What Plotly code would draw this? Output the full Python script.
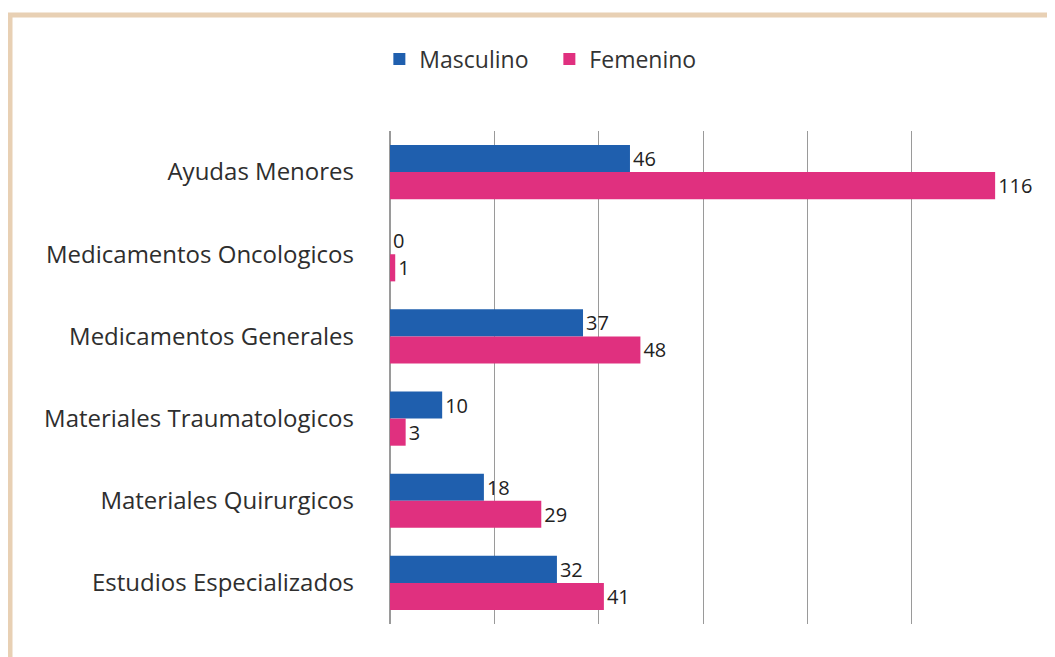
import plotly.graph_objects as go

categorias = ["Ayudas Menores", "Medicamentos Oncologicos", "Medicamentos Generales",
              "Materiales Traumatologicos", "Materiales Quirurgicos", "Estudios Especializados"]
masculino = [46, 0, 37, 10, 18, 32]
femenino = [116, 1, 48, 3, 29, 41]

azul = "#1f5fae"
rosa = "#e0307f"
font_fam = "'Open Sans', 'Noto Sans', sans-serif"

W, H = 1055, 657
L, R, T, B = 382, 47, 123, 41
pw, ph = W - L - R, H - T - B

fig = go.Figure()
fig.add_trace(go.Bar(y=categorias, x=masculino, orientation="h", name="Masculino",
                     marker=dict(color=azul, line=dict(width=0)),
                     text=masculino, textposition="outside", cliponaxis=False,
                     textfont=dict(size=20, color="#222222", family=font_fam)))
fig.add_trace(go.Bar(y=categorias, x=femenino, orientation="h", name="Femenino",
                     marker=dict(color=rosa, line=dict(width=0)),
                     text=femenino, textposition="outside", cliponaxis=False,
                     textfont=dict(size=20, color="#222222", family=font_fam)))

fig.update_layout(
    width=W, height=H,
    barmode="group", bargap=0.34, bargroupgap=0,
    paper_bgcolor="white", plot_bgcolor="white",
    margin=dict(l=L, r=R, t=T, b=B, autoexpand=False),
    font=dict(family=font_fam, size=19, color="#333333"),
    legend=dict(orientation="h", xref="container", x=0.352, xanchor="left",
                yref="container", y=0.955, yanchor="top",
                font=dict(size=23, color="#333333"), traceorder="normal",
                itemwidth=30, entrywidth=125, entrywidthmode="pixels",
                bgcolor="rgba(0,0,0,0)"),
    showlegend=True,
    xaxis=dict(range=[0, 120], dtick=20, showticklabels=False, showgrid=True,
               gridcolor="#9a9a9a", gridwidth=1, zeroline=True, zerolinecolor="#9a9a9a",
               showline=False, ticks="", automargin=False, fixedrange=True),
    yaxis=dict(autorange="reversed", showline=False, ticks="", ticklabelstandoff=35,
               automargin=False, tickfont=dict(size=24, color="#2e2e2e")),
)
# tan frame around the chart
fig.add_shape(type="rect", xref="paper", yref="paper",
              x0=(2 - L) / pw, x1=(1080 - L) / pw,
              y0=(H - B - 690) / ph, y1=(H - B - 7) / ph,
              line=dict(color="#e8d0b4", width=5), layer="below")

fig.write_html("out.html")
